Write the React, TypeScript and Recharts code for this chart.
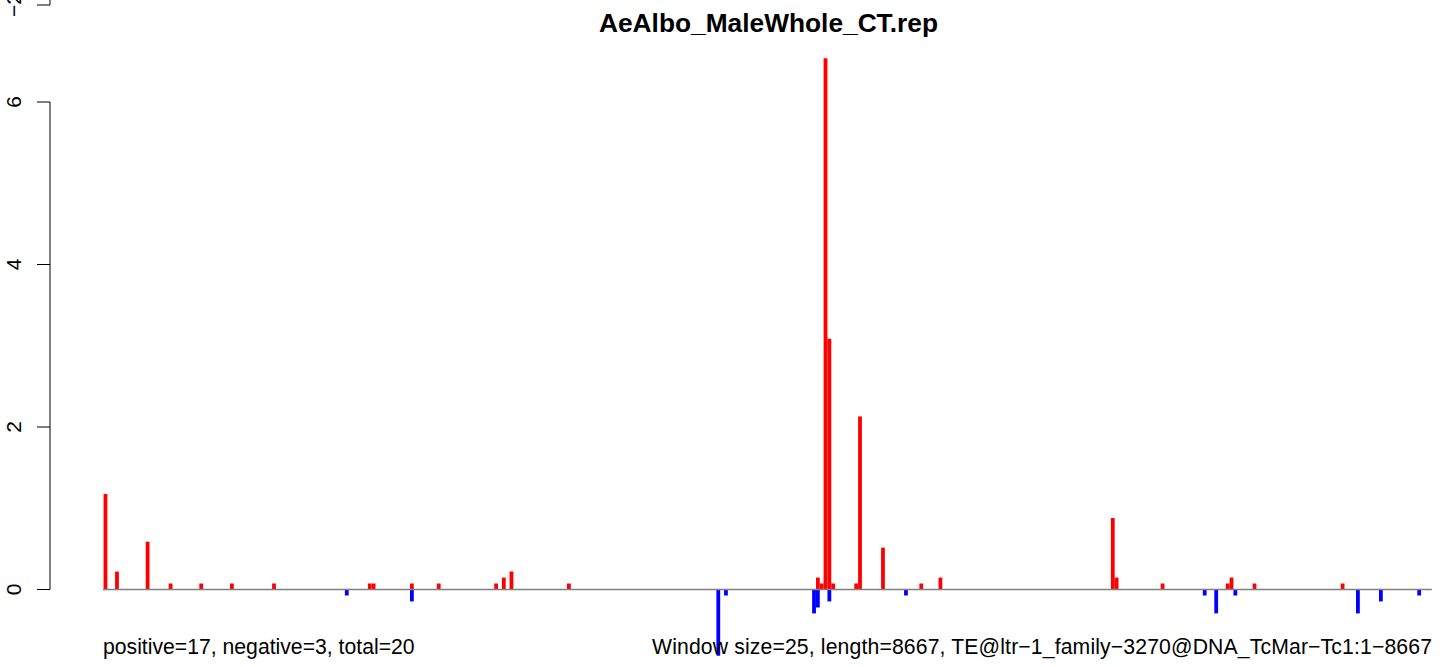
import { Bar, BarChart, ReferenceLine, XAxis, YAxis } from "recharts";

const TITLE = "AeAlbo_MaleWhole_CT.rep";
const SUMMARY = "positive=17, negative=3, total=20";
const INFO =
  "Window size=25, length=8667, TE@ltr\u22121_family\u22123270@DNA_TcMar\u2212Tc1:1\u22128667";
const PREV_LABEL = "\u22122";

const yTicks = [0, 2, 4, 6];

// window index (25bp windows) -> value
const posBins = [
  0, 3, 11, 17, 25, 33, 44, 69, 70, 80, 87, 102, 104, 106, 121, 186, 187, 188, 189, 190, 196,
  197, 203, 213, 218, 263, 264, 276, 293, 294, 300, 323,
];
const posValues = [
  1.176, 0.221, 0.588, 0.074, 0.074, 0.074, 0.074, 0.074, 0.074, 0.074, 0.074, 0.074, 0.147,
  0.221, 0.074, 0.147, 0.074, 6.54, 3.087, 0.074, 0.074, 2.13, 0.515, 0.074, 0.147, 0.88, 0.147,
  0.074, 0.074, 0.147, 0.074, 0.074,
];
const negBins = [63, 80, 160, 162, 185, 186, 189, 209, 287, 290, 295, 327, 333, 343];
const negValues = [
  -0.074, -0.147, -0.815, -0.074, -0.294, -0.221, -0.147, -0.074, -0.074, -0.294, -0.074, -0.294,
  -0.147, -0.074,
];

const rows = Array.from(new Set([...posBins, ...negBins]))
  .sort((a, b) => a - b)
  .map((bin) => {
    const pi = posBins.indexOf(bin);
    const ni = negBins.indexOf(bin);
    return { bin, pos: pi >= 0 ? posValues[pi] : 0, neg: ni >= 0 ? negValues[ni] : 0 };
  });

const X_MIN = -14.49;
const X_MAX = 348.43;
const FONT = "'Liberation Sans', Arial, Helvetica, sans-serif";

function RTick(props: any) {
  const { y, payload } = props;
  return (
    <text
      x={21}
      y={y}
      transform={`rotate(-90 21 ${y})`}
      textAnchor="middle"
      fontSize={21}
      fontFamily={FONT}
      fill="#000"
    >
      {payload.value}
    </text>
  );
}

export default function App() {
  return (
    <div style={{ position: "relative", width: 1444, height: 667, background: "#fff" }}>
      <style>{`body{margin:0}`}</style>
      <BarChart
        width={1444}
        height={667}
        data={rows}
        stackOffset="sign"
        margin={{ top: 0, right: 4, bottom: 0, left: 0 }}
      >
        <XAxis type="number" dataKey="bin" domain={[X_MIN, X_MAX]} allowDataOverflow hide />
        <YAxis
          type="number"
          domain={[-0.9538, 7.2554]}
          allowDataOverflow
          ticks={yTicks}
          interval={0}
          width={50}
          tickSize={13}
          axisLine={false}
          tickLine={{ stroke: "#000" }}
          tick={<RTick />}
        />
        <Bar dataKey="pos" stackId="s" fill="#ff0000" barSize={3.8} isAnimationActive={false} />
        <Bar dataKey="neg" stackId="s" fill="#0000ff" barSize={3.8} isAnimationActive={false} />
        <ReferenceLine
          segment={[
            { x: -0.65, y: 0 },
            { x: 346.3, y: 0 },
          ]}
          stroke="#808080"
          strokeWidth={1.5}
        />
        <ReferenceLine
          segment={[
            { x: X_MIN, y: 0 },
            { x: X_MIN, y: 6 },
          ]}
          stroke="#000"
          strokeWidth={1}
        />
      </BarChart>
      <svg
        width={1444}
        height={667}
        style={{ position: "absolute", left: 0, top: 0, pointerEvents: "none" }}
      >
        <text
          x={768.5}
          y={32}
          textAnchor="middle"
          fontSize={26.3}
          fontWeight="bold"
          fontFamily={FONT}
        >
          {TITLE}
        </text>
        <text x={103} y={653.5} fontSize={21.2} fontFamily={FONT}>
          {SUMMARY}
        </text>
        <text
          x={1432}
          y={653.5}
          textAnchor="end"
          fontSize={21.2}
          fontFamily={FONT}
          textLength={780}
          lengthAdjust="spacing"
        >
          {INFO}
        </text>
        {/* bottom of the panel above */}
        <line x1={50} y1={0} x2={50} y2={5} stroke="#000" />
        <line x1={37} y1={5} x2={50} y2={5} stroke="#000" />
        <text
          x={21}
          y={5}
          transform="rotate(-90 21 5)"
          textAnchor="middle"
          fontSize={21}
          fontFamily={FONT}
        >
          {PREV_LABEL}
        </text>
      </svg>
    </div>
  );
}
